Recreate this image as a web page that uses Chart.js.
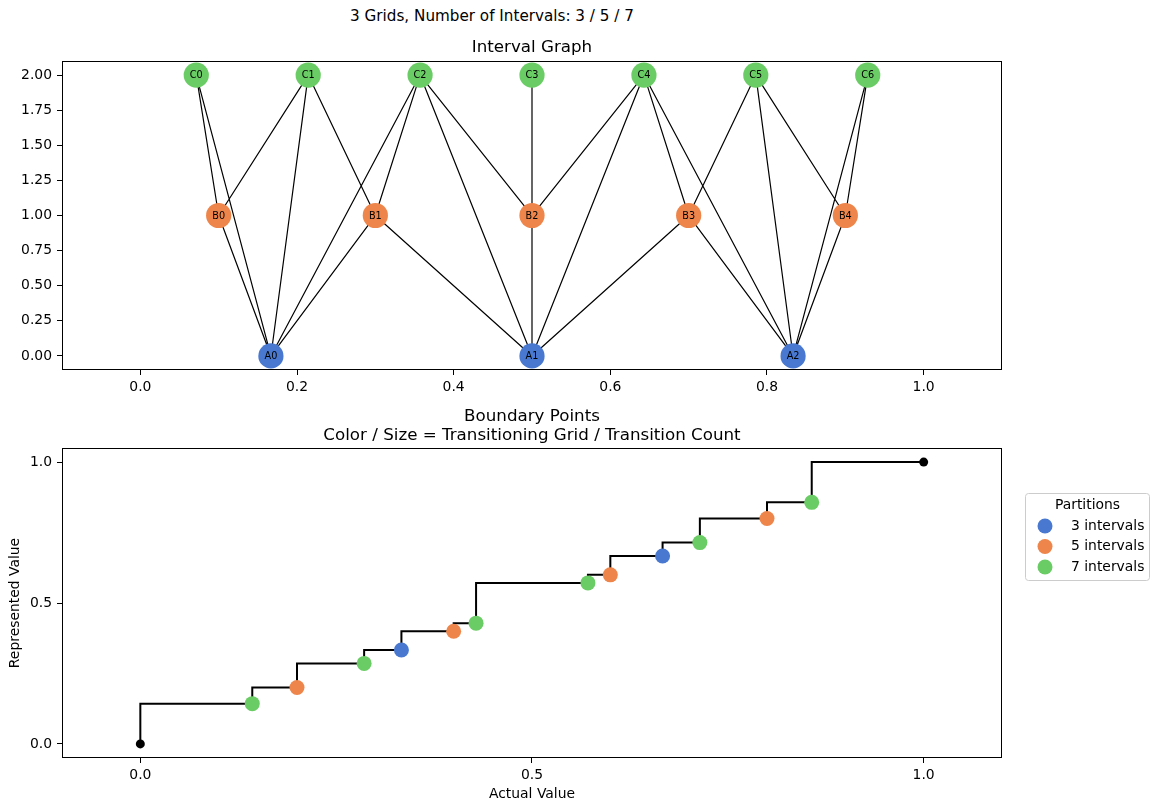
<!DOCTYPE html>
<html>
<head>
<meta charset="utf-8">
<script src="https://cdn.jsdelivr.net/npm/chart.js@4/dist/chart.umd.min.js"></script>
<style>
html,body{margin:0;padding:0;background:#fff;}
#wrap{position:relative;width:1158px;height:811px;overflow:hidden;font-family:"DejaVu Sans",sans-serif;}
#sup{position:absolute;left:0;width:984px;top:5px;text-align:center;font-size:15.2px;line-height:22px;color:#000;}
canvas{position:absolute;left:0;}
</style>
</head>
<body>
<div id="wrap">
<div id="sup">3 Grids, Number of Intervals: 3 / 5 / 7</div>
<canvas id="c1" width="1158" height="400" style="top:0px"></canvas>
<canvas id="c2" width="1158" height="411" style="top:400px"></canvas>
</div>
<script>
// ---------------- data ----------------
const nodeNamesA = ['A0','A1','A2'];
const nodeXA = [0.1667, 0.5, 0.8333];
const nodeYA = [0, 0, 0];
const nodeNamesB = ['B0','B1','B2','B3','B4'];
const nodeXB = [0.1, 0.3, 0.5, 0.7, 0.9];
const nodeYB = [1, 1, 1, 1, 1];
const nodeNamesC = ['C0','C1','C2','C3','C4','C5','C6'];
const nodeXC = [0.0714, 0.2143, 0.3571, 0.5, 0.6429, 0.7857, 0.9286];
const nodeYC = [2, 2, 2, 2, 2, 2, 2];

const edgeFrom = ['C0','C0','C1','C1','C1','C2','C2','C2','C2','C3','C3','C4','C4','C4','C4','C5','C5','C5','C6','C6','B0','B1','B1','B2','B3','B3','B4'];
const edgeTo   = ['B0','A0','B0','A0','B1','A0','B1','B2','A1','B2','A1','B2','A1','B3','A2','B3','A2','B4','B4','A2','A0','A0','A1','A1','A1','A2','A2'];

const topXTicks = [0.0, 0.2, 0.4, 0.6, 0.8, 1.0];
const topYTicks = [0.0, 0.25, 0.5, 0.75, 1.0, 1.25, 1.5, 1.75, 2.0];

const boundaryX = [0, 0.1429, 0.2, 0.2857, 0.3333, 0.4, 0.4286, 0.5714, 0.6, 0.6667, 0.7143, 0.8, 0.8571, 1.0];
const boundaryY = [0, 0.1429, 0.2, 0.2857, 0.3333, 0.4, 0.4286, 0.5714, 0.6, 0.6667, 0.7143, 0.8, 0.8571, 1.0];
const boundaryGrid = [0, 7, 5, 7, 3, 5, 7, 7, 5, 3, 7, 5, 7, 0];
const transitionCount = [0, 1, 1, 1, 1, 1, 1, 1, 1, 1, 1, 1, 1, 0];

const bottomXTicks = [0.0, 0.5, 1.0];
const bottomYTicks = [0.0, 0.5, 1.0];

const gridSizes = [3, 5, 7];
const gridLabels = ['3 intervals', '5 intervals', '7 intervals'];
const gridColors = ['#4878d0', '#ee854a', '#6acc64'];

// ---------------- helpers ----------------
Chart.defaults.font.family = '"DejaVu Sans", sans-serif';
Chart.defaults.font.size = 13.9;
Chart.defaults.color = '#000';

function lookupNode(name) {
  const sets = [[nodeNamesA,nodeXA,nodeYA],[nodeNamesB,nodeXB,nodeYB],[nodeNamesC,nodeXC,nodeYC]];
  for (const [n,x,y] of sets) { const i = n.indexOf(name); if (i >= 0) return {x:x[i], y:y[i]}; }
  return null;
}

function mkX(ticks, decimals, height, title) {
  const s = {
    type: 'linear', position: 'bottom', min: -0.1, max: 1.1,
    afterBuildTicks: sc => { sc.ticks = ticks.map(v => ({value: v})); },
    afterFit: sc => { sc.height = height; },
    ticks: { callback: v => Number(v).toFixed(decimals), padding: 4, maxRotation: 0, autoSkip: false, font: {size: 13.9} },
    grid: { drawOnChartArea: false, drawTicks: true, tickLength: 5, color: '#000', lineWidth: 1 },
    border: { display: false }
  };
  if (title) s.title = { display: true, text: title, font: {size: 13.9}, padding: {top: 0, bottom: 8.6} };
  return s;
}
function mkY(ticks, decimals, min, max, title) {
  const s = {
    type: 'linear', position: 'left', min: min, max: max,
    afterBuildTicks: sc => { sc.ticks = ticks.map(v => ({value: v})); },
    afterFit: sc => { sc.width = 62; },
    ticks: { callback: v => Number(v).toFixed(decimals), padding: 5, autoSkip: false, font: {size: 13.9} },
    grid: { drawOnChartArea: false, drawTicks: true, tickLength: 5, color: '#000', lineWidth: 1 },
    border: { display: false }
  };
  if (title) s.title = { display: true, text: title, font: {size: 13.9}, padding: {top: 7, bottom: 0} };
  return s;
}

const framePlugin = {
  id: 'frame',
  afterDraw(chart) {
    const a = chart.chartArea, ctx = chart.ctx;
    ctx.save();
    ctx.strokeStyle = '#000'; ctx.lineWidth = 1;
    const l = Math.round(a.left) + 0.5, t = Math.round(a.top) + 0.5;
    const r = Math.round(a.right) - 0.5, b = Math.round(a.bottom) - 0.5;
    ctx.strokeRect(l, t, r - l, b - t);
    ctx.restore();
  }
};

const nodeLabelPlugin = {
  id: 'nodeLabels',
  afterDatasetsDraw(chart) {
    const ctx = chart.ctx;
    ctx.save();
    ctx.fillStyle = '#000';
    ctx.font = '9.7px "DejaVu Sans", sans-serif';
    ctx.textAlign = 'center'; ctx.textBaseline = 'middle';
    chart.data.datasets.forEach((ds, i) => {
      if (!ds.nodeNames) return;
      chart.getDatasetMeta(i).data.forEach((el, j) => ctx.fillText(ds.nodeNames[j], el.x, el.y + 0.5));
    });
    ctx.restore();
  }
};

const legendPlugin = {
  id: 'sideLegend',
  afterDraw(chart) {
    const a = chart.chartArea, ctx = chart.ctx;
    const items = chart.data.datasets.filter(d => d.legendItem);
    const x0 = a.right + 23, y0 = a.top + 45, w = 124, h = 87;
    ctx.save();
    ctx.fillStyle = 'rgba(255,255,255,0.8)';
    ctx.strokeStyle = '#cccccc'; ctx.lineWidth = 1;
    ctx.beginPath();
    ctx.roundRect(x0 + 0.5, y0 + 0.5, w, h, 3);
    ctx.fill(); ctx.stroke();
    ctx.fillStyle = '#000';
    ctx.font = '13.9px "DejaVu Sans", sans-serif';
    ctx.textBaseline = 'middle';
    ctx.textAlign = 'center';
    ctx.fillText('Partitions', x0 + w / 2 + 0.5, y0 + 12);
    ctx.textAlign = 'left';
    items.forEach((d, i) => {
      const cy = y0 + 33 + i * 20.5;
      ctx.fillStyle = d.backgroundColor;
      ctx.beginPath(); ctx.arc(x0 + 20, cy, 7.5, 0, Math.PI * 2); ctx.fill();
      ctx.fillStyle = '#000';
      ctx.fillText(d.label, x0 + 46, cy);
    });
    ctx.restore();
  }
};

// ---------------- top chart ----------------
const edgeData = [];
edgeFrom.forEach((f, i) => {
  const p = lookupNode(f), q = lookupNode(edgeTo[i]);
  edgeData.push({x: p.x, y: p.y}, {x: q.x, y: q.y}, {x: null, y: null});
});

function nodeSet(names, xs, ys, color) {
  return {
    type: 'scatter', nodeNames: names,
    data: xs.map((x, i) => ({x: x, y: ys[i]})),
    backgroundColor: color, borderWidth: 0, pointRadius: 12.6, pointHoverRadius: 12.6,
    order: 0, clip: false
  };
}

new Chart(document.getElementById('c1'), {
  type: 'scatter',
  data: {
    datasets: [
      nodeSet(nodeNamesA, nodeXA, nodeYA, gridColors[0]),
      nodeSet(nodeNamesB, nodeXB, nodeYB, gridColors[1]),
      nodeSet(nodeNamesC, nodeXC, nodeYC, gridColors[2]),
      {
        type: 'scatter', showLine: true, spanGaps: false, data: edgeData,
        borderColor: '#000', borderWidth: 1.2, pointRadius: 0, pointHoverRadius: 0,
        order: 1, clip: false
      }
    ]
  },
  options: {
    responsive: false, animation: false, events: [],
    layout: { padding: {top: 38, left: 0, right: 156, bottom: 0} },
    plugins: {
      legend: { display: false }, tooltip: { enabled: false },
      title: { display: true, text: 'Interval Graph', fullSize: false, font: {size: 16.7, weight: 'normal', lineHeight: 1.2}, color: '#000', padding: {top: 0, bottom: 3} }
    },
    scales: {
      x: mkX(topXTicks, 1, 30, null),
      y: mkY(topYTicks, 2, -0.1, 2.1, null)
    }
  },
  plugins: [framePlugin, nodeLabelPlugin]
});

// ---------------- bottom chart ----------------
const stepData = boundaryX.map((x, i) => ({x: x, y: boundaryY[i]}));
const endData = [];
boundaryX.forEach((x, i) => { if (boundaryGrid[i] === 0) endData.push({x: x, y: boundaryY[i]}); });
const gridSets = gridSizes.map((g, k) => {
  const pts = [], radii = [];
  boundaryX.forEach((x, i) => { if (boundaryGrid[i] === g) { pts.push({x: x, y: boundaryY[i]}); radii.push(7.5 * Math.sqrt(transitionCount[i])); } });
  return {
    type: 'scatter', label: gridLabels[k], legendItem: true, data: pts,
    backgroundColor: gridColors[k], borderWidth: 0, pointRadius: radii, pointHoverRadius: radii,
    order: 0, clip: false
  };
});

new Chart(document.getElementById('c2'), {
  type: 'scatter',
  data: {
    datasets: [
      ...gridSets,
      {
        type: 'scatter', data: endData, backgroundColor: '#000', borderWidth: 0,
        pointRadius: 4.5, pointHoverRadius: 4.5, order: 1, clip: false
      },
      {
        type: 'scatter', showLine: true, stepped: 'after', data: stepData,
        borderColor: '#000', borderWidth: 2, pointRadius: 0, pointHoverRadius: 0,
        order: 2, clip: false
      }
    ]
  },
  options: {
    responsive: false, animation: false, events: [],
    layout: { padding: {top: 7, left: 0, right: 156, bottom: 0} },
    plugins: {
      legend: { display: false }, tooltip: { enabled: false },
      title: { display: true, text: ['Boundary Points', 'Color / Size = Transitioning Grid / Transition Count'], fullSize: false, font: {size: 16.7, weight: 'normal', lineHeight: 1.15}, color: '#000', padding: {top: 0, bottom: 2.6} }
    },
    scales: {
      x: mkX(bottomXTicks, 1, 53, 'Actual Value'),
      y: mkY(bottomYTicks, 1, -0.05, 1.05, 'Represented Value')
    }
  },
  plugins: [framePlugin, legendPlugin]
});
</script>
</body>
</html>
